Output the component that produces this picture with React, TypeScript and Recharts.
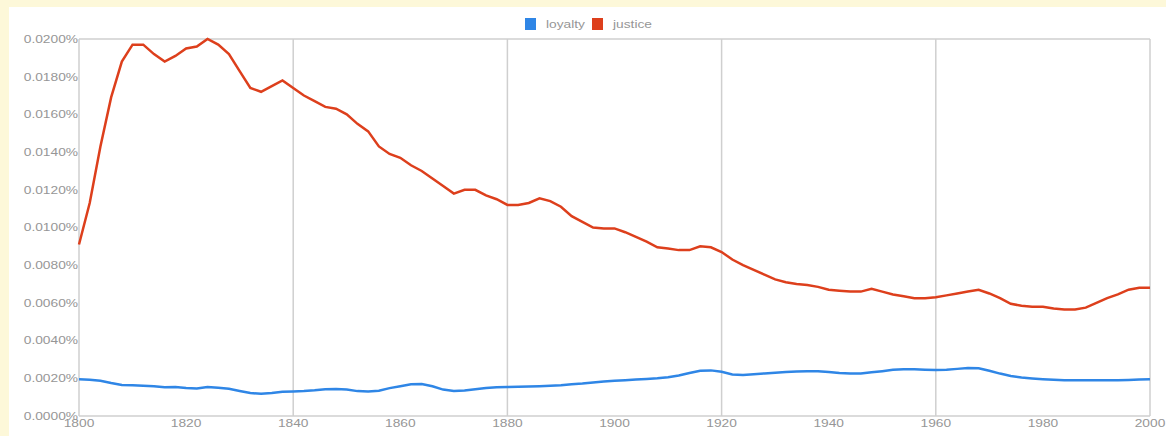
import React from "react";
import { LineChart, Line, XAxis, YAxis, CartesianGrid, Legend } from "recharts";

const years = [
  1800, 1802, 1804, 1806, 1808, 1810, 1812, 1814, 1816, 1818,
  1820, 1822, 1824, 1826, 1828, 1830, 1832, 1834, 1836, 1838,
  1840, 1842, 1844, 1846, 1848, 1850, 1852, 1854, 1856, 1858,
  1860, 1862, 1864, 1866, 1868, 1870, 1872, 1874, 1876, 1878,
  1880, 1882, 1884, 1886, 1888, 1890, 1892, 1894, 1896, 1898,
  1900, 1902, 1904, 1906, 1908, 1910, 1912, 1914, 1916, 1918,
  1920, 1922, 1924, 1926, 1928, 1930, 1932, 1934, 1936, 1938,
  1940, 1942, 1944, 1946, 1948, 1950, 1952, 1954, 1956, 1958,
  1960, 1962, 1964, 1966, 1968, 1970, 1972, 1974, 1976, 1978,
  1980, 1982, 1984, 1986, 1988, 1990, 1992, 1994, 1996, 1998,
  2000,
];

// values in percent
const loyalty = [
  0.00195, 0.00192, 0.00187, 0.00175, 0.00165, 0.00163, 0.0016, 0.00158, 0.00152, 0.00154,
  0.00148, 0.00146, 0.00154, 0.0015, 0.00144, 0.00133, 0.00122, 0.00118, 0.00122, 0.00128,
  0.0013, 0.00132, 0.00136, 0.00142, 0.00143, 0.0014, 0.00132, 0.0013, 0.00134, 0.00148,
  0.00158, 0.00168, 0.0017, 0.00158, 0.0014, 0.00133, 0.00135, 0.00142, 0.00148, 0.00152,
  0.00154, 0.00155, 0.00156, 0.00158, 0.0016, 0.00163, 0.00168, 0.00172, 0.00178, 0.00183,
  0.00187, 0.0019, 0.00193, 0.00196, 0.002, 0.00206, 0.00215, 0.00228, 0.0024, 0.00242,
  0.00235, 0.0022, 0.00218, 0.00222, 0.00226, 0.0023, 0.00234, 0.00236, 0.00238, 0.00238,
  0.00233, 0.00228, 0.00225, 0.00226, 0.00232, 0.00238, 0.00245, 0.00248, 0.00248, 0.00246,
  0.00244, 0.00246, 0.0025, 0.00255, 0.00253, 0.0024, 0.00225, 0.00212, 0.00204, 0.00199,
  0.00195, 0.00192, 0.0019, 0.0019, 0.0019, 0.0019, 0.0019, 0.0019, 0.00191, 0.00193,
  0.00195,
];

const justice = [
  0.0091, 0.0113, 0.0143, 0.0169, 0.0188, 0.0197, 0.0197, 0.0192, 0.0188, 0.0191,
  0.0195, 0.0196, 0.02, 0.0197, 0.0192, 0.0183, 0.0174, 0.0172, 0.0175, 0.0178,
  0.0174, 0.017, 0.0167, 0.0164, 0.0163, 0.016, 0.0155, 0.0151, 0.0143, 0.0139,
  0.0137, 0.0133, 0.013, 0.0126, 0.0122, 0.0118, 0.012, 0.012, 0.0117, 0.0115,
  0.0112, 0.0112, 0.0113, 0.01155, 0.0114, 0.0111, 0.0106, 0.0103, 0.01, 0.00995,
  0.00995, 0.00975, 0.0095, 0.00925, 0.00895, 0.00888, 0.0088, 0.0088, 0.009, 0.00895,
  0.0087, 0.0083, 0.008, 0.00775, 0.0075, 0.00725, 0.0071, 0.007, 0.00695, 0.00685,
  0.0067, 0.00665, 0.0066, 0.0066, 0.00675, 0.0066, 0.00645, 0.00635, 0.00625, 0.00625,
  0.0063, 0.0064, 0.0065, 0.0066, 0.0067, 0.0065, 0.00625, 0.00595, 0.00585, 0.0058,
  0.0058, 0.0057, 0.00565, 0.00565, 0.00575, 0.006, 0.00625, 0.00645, 0.0067, 0.0068,
  0.0068,
];

const yTicks = [0, 0.002, 0.004, 0.006, 0.008, 0.01, 0.012, 0.014, 0.016, 0.018, 0.02];
const xTicks = [1800, 1820, 1840, 1860, 1880, 1900, 1920, 1940, 1960, 1980, 2000];
const gridYTicks = [0, 0.004, 0.008, 0.012, 0.016, 0.02];
const gridXTicks = [1800, 1840, 1880, 1920, 1960, 2000];

const BLUE = "#2f86e6";
const RED = "#dd3f1c";
const TEXT = "#969696";
const FONT = "'Liberation Sans', Arial, sans-serif";

const data = years.map((year, i) => ({ year, loyalty: loyalty[i], justice: justice[i] }));

const YTick = (props: any) => {
  const { x, y, payload } = props;
  return (
    <g transform={`translate(${x},${y}) scale(1.25,1)`}>
      <text x={0} y={0} dy="0.35em" textAnchor="end" fill={TEXT} fontSize={11} fontFamily={FONT}>
        {payload.value.toFixed(4) + "%"}
      </text>
    </g>
  );
};

const XTick = (props: any) => {
  const { x, y, payload } = props;
  return (
    <g transform={`translate(${x},${y}) scale(1.25,1)`}>
      <text x={0} y={0} dy="0.71em" textAnchor="middle" fill={TEXT} fontSize={11} fontFamily={FONT}>
        {payload.value}
      </text>
    </g>
  );
};

const LegendContent = () => (
  <div
    style={{
      width: 1157,
      height: 24,
      display: "flex",
      justifyContent: "center",
      alignItems: "flex-start",
      paddingLeft: 9,
      boxSizing: "border-box",
      fontFamily: FONT,
      fontSize: 11,
      color: TEXT,
    }}
  >
    {[
      { name: "loyalty", color: BLUE },
      { name: "justice", color: RED },
    ].map((it) => (
      <div key={it.name} style={{ display: "flex", alignItems: "center", marginRight: 12, marginTop: 3 }}>
        <div style={{ width: 11, height: 12, background: it.color, marginRight: 10 }} />
        <span style={{ display: "inline-block", transform: "scale(1.25,1)", transformOrigin: "left center", width: 34 }}>
          {it.name}
        </span>
      </div>
    ))}
  </div>
);

export default function App() {
  return (
    <div style={{ position: "fixed", left: 0, top: 0, width: 1166, height: 436, background: "#fdf8d9" }}>
      <div style={{ position: "absolute", left: 9, top: 7, width: 1157, height: 429, background: "#ffffff" }}>
        <LineChart width={1157} height={429} data={data} margin={{ top: 8, right: 16, left: 0, bottom: 0 }}>
          <XAxis
            dataKey="year"
            type="number"
            domain={[1800, 2000]}
            ticks={xTicks}
            axisLine={false}
            tickLine={false}
            tickSize={0}
            tickMargin={3}
            height={20}
            tick={<XTick />}
            interval={0}
          />
          <XAxis xAxisId="grid" dataKey="year" type="number" domain={[1800, 2000]} ticks={gridXTicks} hide />
          <YAxis
            type="number"
            domain={[0, 0.02]}
            ticks={yTicks}
            axisLine={false}
            tickLine={false}
            tickSize={0}
            tickMargin={1}
            width={70}
            tick={<YTick />}
            interval={0}
          />
          <YAxis yAxisId="grid" type="number" domain={[0, 0.02]} ticks={gridYTicks} hide />
          <CartesianGrid xAxisId="grid" yAxisId="grid" stroke="#cfcfcf" strokeWidth={1.5} />
          <Legend verticalAlign="top" align="center" content={<LegendContent />} />
          <Line
            dataKey="loyalty"
            stroke={BLUE}
            strokeWidth={2.5}
            dot={false}
            activeDot={false}
            isAnimationActive={false}
            type="linear"
          />
          <Line
            dataKey="justice"
            stroke={RED}
            strokeWidth={2.5}
            dot={false}
            activeDot={false}
            isAnimationActive={false}
            type="linear"
          />
        </LineChart>
      </div>
    </div>
  );
}
